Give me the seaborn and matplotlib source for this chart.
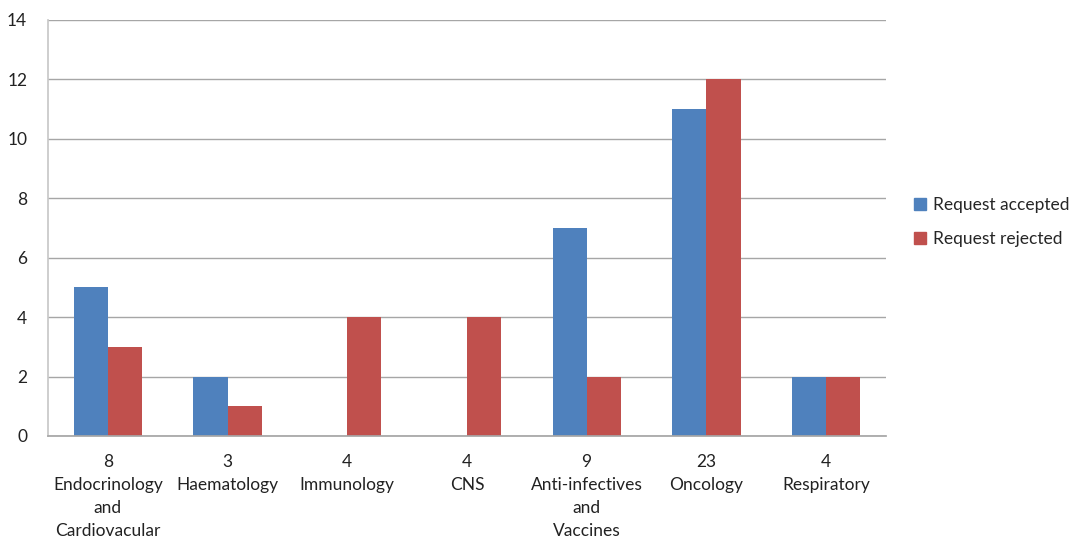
import matplotlib
matplotlib.use("Agg")
import matplotlib.pyplot as plt
import seaborn as sns
import pandas as pd
import numpy as np

# Therapeutic areas (with number of requests) and outcome counts
areas = ["8\nEndocrinology\nand\nCardiovacular", "3\nHaematology", "4\nImmunology",
         "4\nCNS", "9\nAnti-infectives\nand\nVaccines", "23\nOncology", "4\nRespiratory"]
accepted = [5, 2, 0, 0, 7, 11, 2]
rejected = [3, 1, 4, 4, 2, 12, 2]
series = ["Request accepted", "Request rejected"]
colors = ["#4F81BD", "#C0504D"]
y_ticks = [0, 2, 4, 6, 8, 10, 12, 14]

df = pd.DataFrame({
    "area": areas * 2,
    "count": accepted + rejected,
    "outcome": [series[0]] * len(areas) + [series[1]] * len(areas),
})

sns.set_theme(style="white")
plt.rcParams["font.family"] = ["Lato", "DejaVu Sans"]

fig = plt.figure(figsize=(10.73, 5.39), dpi=100)
ax = fig.add_axes([0.0447, 0.1911, 0.781, 0.7718])

sns.barplot(data=df, x="area", y="count", hue="outcome", order=areas,
            hue_order=series, palette=colors, width=0.57, saturation=1,
            linewidth=0, ax=ax, legend=True)

ax.set_ylim(0, 14)
ax.set_xlim(-0.5, len(areas) - 0.5)
ax.set_yticks(y_ticks)
ax.set_yticklabels([str(v) for v in y_ticks], fontsize=12.5, color="#222222")
ax.yaxis.grid(True, color="#A6A6A6", linewidth=1)
ax.set_axisbelow(True)

# category separators as major ticks, labels on minor ticks at centres
ax.set_xticks(np.arange(-0.5, len(areas), 1.0))
ax.set_xticklabels([])
ax.set_xticks(np.arange(len(areas)), minor=True)
ax.set_xticklabels(areas, minor=True, fontsize=12.5, color="#222222", linespacing=1.54)
ax.tick_params(axis="x", which="major", length=6, color="#A6A6A6", width=1, direction="out")
ax.tick_params(axis="x", which="minor", length=0, pad=13)
ax.tick_params(axis="y", length=7, color="#A6A6A6", width=1, direction="out", pad=8)
for lbl in ax.get_xticklabels(minor=True):
    lbl.set_verticalalignment("top")

ax.set_xlabel("")
ax.set_ylabel("")
for side in ["top", "right"]:
    ax.spines[side].set_visible(False)
ax.spines["left"].set_color("#C8C8C8")
ax.spines["bottom"].set_color("#A6A6A6")

ax.legend_.remove()
handles = [plt.Rectangle((0, 0), 1, 1, color=c) for c in colors]
fig.legend(handles, series, loc="center left", bbox_to_anchor=(0.837, 0.588),
           frameon=False, fontsize=12.5, handlelength=0.7, handleheight=0.7,
           handletextpad=0.4, labelspacing=1.0)

fig.savefig("out.png", dpi=100)
